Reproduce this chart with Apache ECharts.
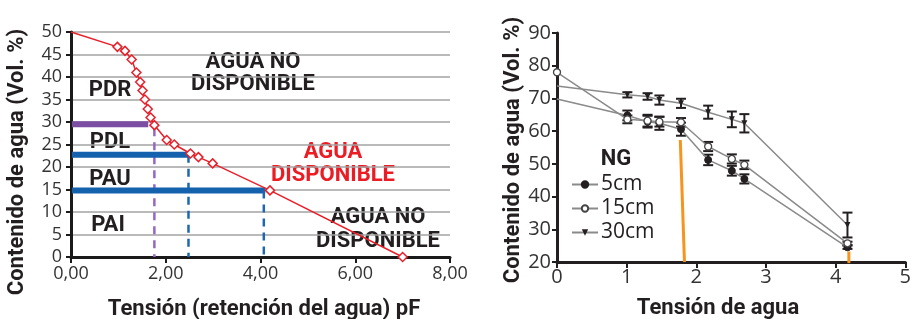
<!DOCTYPE html>
<html>
<head>
<meta charset="utf-8">
<script src="https://cdn.jsdelivr.net/npm/echarts@6/dist/echarts.min.js"></script>
<style>
  html, body { margin: 0; padding: 0; background: #fff; }
  #chart { width: 914px; height: 319px; }
</style>
</head>
<body>
<div id="chart"></div>
<script>
// left chart: retention curve (pF vs vol %)
const pfTension = [0, 0.98, 1.14, 1.28, 1.38, 1.46, 1.51, 1.56, 1.62, 1.68, 1.76, 2.02, 2.18, 2.52, 2.69, 2.99, 4.20, 7.00]
const pfWater = [50, 46.7, 45.8, 43.9, 41.0, 38.9, 37.0, 35.0, 32.9, 31.0, 29.3, 26.0, 25.0, 23.0, 22.2, 20.8, 14.8, 0]

// horizontal level bars and their dashed drops
const levelY = [29.5, 22.7, 14.8]
const levelEnd = [1.63, 2.5, 4.1]
const dropX = [1.76, 2.48, 4.07]
const dropTop = [28.6, 22.7, 14.8]
const levelColor = ['#7b4ea3', '#1461ad', '#1461ad']
const dropColor = ['#9566c6', '#1f66b2', '#1f66b2']

// right chart: tension vs water content per depth
const ngTension = [0, 1.01, 1.30, 1.47, 1.78, 2.17, 2.51, 2.69, 4.17]
const ng5 = [69.8, 64.8, 62.9, 62.4, 60.6, 51.2, 47.9, 45.4, 24.5]
const ng5Err = [0, 1.5, 1.8, 2.0, 2.0, 1.6, 1.5, 1.4, 0.5]
const ng15 = [78.0, 63.6, 63.2, 62.9, 62.7, 55.3, 51.5, 49.7, 25.7]
const ng15Err = [0, 1.2, 1.8, 1.5, 1.3, 1.4, 1.4, 1.3, 0.5]
const ng30 = [73.8, 71.1, 70.6, 69.5, 68.5, 65.8, 63.6, 62.4, 31.3]
const ng30Err = [0, 0.8, 1.0, 1.4, 1.4, 2.0, 2.4, 2.8, 3.8]

// orange marker lines
const orangeA = [[1.77, 57.3], [1.83, 20]]
const orangeB = [[4.19, 23.2], [4.19, 19.6]]

const dark = '#231f20'
const tickFont = 'Open Sans'
const boldFont = 'Roboto'

const chart = echarts.init(document.getElementById('chart'), null, { renderer: 'canvas' })

const curveData = pfTension.map((x, i) => {
  const item = { value: [x, pfWater[i]] }
  if (i === 0) item.symbol = 'none'
  return item
})

const levelSeries = []
levelY.forEach((y, i) => {
  levelSeries.push({
    type: 'line',
    xAxisIndex: 0,
    yAxisIndex: 0,
    data: [[0.02, y], [levelEnd[i], y]],
    symbol: 'none',
    silent: true,
    z: 3,
    lineStyle: { color: levelColor[i], width: 6 }
  })
  levelSeries.push({
    type: 'line',
    xAxisIndex: 0,
    yAxisIndex: 0,
    data: [[dropX[i], dropTop[i]], [dropX[i], 0]],
    symbol: 'none',
    silent: true,
    z: 3,
    lineStyle: { color: dropColor[i], width: 2.5, type: [8, 6] }
  })
})

const pointData = (ys, i0) => ngTension.map((x, i) => {
  const item = { value: [x, ys[i]] }
  if (i === 0 && !i0) item.symbol = 'none'
  return item
})

const errData = (ys, errs) => {
  const out = []
  ngTension.forEach((x, i) => {
    if (errs[i] > 0) out.push([x, ys[i] - errs[i], ys[i] + errs[i]])
  })
  return out
}

const renderError = (params, api) => {
  const x = api.value(0)
  const lo = api.coord([x, api.value(1)])
  const hi = api.coord([x, api.value(2)])
  const w = 5
  const style = { stroke: dark, lineWidth: 2, fill: null }
  return {
    type: 'group',
    children: [
      { type: 'line', shape: { x1: hi[0], y1: hi[1], x2: lo[0], y2: lo[1] }, style },
      { type: 'line', shape: { x1: hi[0] - w, y1: hi[1], x2: hi[0] + w, y2: hi[1] }, style },
      { type: 'line', shape: { x1: lo[0] - w, y1: lo[1], x2: lo[0] + w, y2: lo[1] }, style }
    ]
  }
}

const errSeries = [[ng5, ng5Err], [ng15, ng15Err], [ng30, ng30Err]].map(([ys, errs]) => ({
  type: 'custom',
  xAxisIndex: 1,
  yAxisIndex: 1,
  renderItem: renderError,
  encode: { x: 0, y: [1, 2] },
  data: errData(ys, errs),
  silent: true,
  z: 2
}))

const axisText = { color: '#333', fontSize: 18, fontFamily: tickFont }

const text = (str, x, y, opts = {}) => ({
  type: 'text',
  x,
  y,
  rotation: opts.rotation || 0,
  style: {
    text: str,
    fill: opts.color || dark,
    fontSize: opts.size || 22,
    fontWeight: opts.weight || 'bold',
    fontFamily: opts.family || boldFont,
    lineHeight: opts.lineHeight || 22,
    align: 'center',
    verticalAlign: 'middle'
  }
})

const option = {
  backgroundColor: '#fff',
  animation: false,
  grid: [
    { left: 71, right: 464, top: 32, bottom: 62 },
    { left: 557, right: 4, top: 33, bottom: 57 }
  ],
  xAxis: [
    {
      gridIndex: 0,
      type: 'value',
      min: 0,
      max: 8,
      interval: 2,
      axisLine: { lineStyle: { color: '#1a1a1a', width: 3 } },
      axisTick: { length: 6, lineStyle: { color: '#1a1a1a', width: 2 } },
      axisLabel: { ...axisText, margin: 8, formatter: (v) => v.toFixed(2).replace('.', ',') },
      splitLine: { show: false }
    },
    {
      gridIndex: 1,
      type: 'value',
      min: 0,
      max: 5,
      interval: 1,
      axisLine: { lineStyle: { color: dark, width: 3 } },
      axisTick: { length: 6, lineStyle: { color: dark, width: 2 } },
      axisLabel: { ...axisText, fontSize: 20, margin: 5 },
      splitLine: { show: false }
    }
  ],
  yAxis: [
    {
      gridIndex: 0,
      type: 'value',
      min: 0,
      max: 50,
      interval: 5,
      axisLine: { show: true, lineStyle: { color: '#1a1a1a', width: 3 } },
      axisTick: { show: true, length: 5, lineStyle: { color: '#1a1a1a', width: 2 } },
      axisLabel: { ...axisText, margin: 9 },
      splitLine: { lineStyle: { color: '#a3a3a3', width: 1.5 } }
    },
    {
      gridIndex: 1,
      type: 'value',
      min: 20,
      max: 90,
      interval: 10,
      axisLine: { show: true, lineStyle: { color: dark, width: 3 } },
      axisTick: { show: true, length: 5, lineStyle: { color: dark, width: 2 } },
      axisLabel: { ...axisText, fontSize: 20, margin: 6 },
      splitLine: { show: false }
    }
  ],
  legend: {
    data: ['5cm', '15cm', '30cm'],
    orient: 'vertical',
    left: 566,
    top: 169,
    itemWidth: 26,
    itemHeight: 8,
    itemGap: 3,
    textStyle: { color: dark, fontSize: 21, fontFamily: tickFont, padding: [0, 0, 0, -2] }
  },
  graphic: [
    text('Contenido de agua (Vol. %)', 17, 162, { rotation: Math.PI / 2 }),
    text('Tensión (retención del agua) pF', 264, 309),
    text('Contenido de agua (Vol. %)', 513, 150, { rotation: Math.PI / 2 }),
    text('Tensión de agua', 718, 308),
    text('PDR', 110, 90),
    text('PDL', 110, 142),
    text('PAU', 110, 179),
    text('PAI', 108, 225),
    text('AGUA NO\nDISPONIBLE', 253, 73, { lineHeight: 22 }),
    text('AGUA\nDISPONIBLE', 333, 164, { color: '#ec1c24', lineHeight: 23 }),
    text('AGUA NO\nDISPONIBLE', 378, 229, { lineHeight: 24 }),
    text('NG', 616, 159)
  ],
  series: [
    ...levelSeries,
    {
      name: 'curva',
      type: 'line',
      xAxisIndex: 0,
      yAxisIndex: 0,
      data: curveData,
      symbol: 'diamond',
      symbolSize: 9,
      z: 4,
      lineStyle: { color: '#e8202a', width: 1.5 },
      itemStyle: { color: '#fff', borderColor: '#e8202a', borderWidth: 1.5 }
    },
    {
      type: 'line',
      xAxisIndex: 1,
      yAxisIndex: 1,
      data: orangeA,
      symbol: 'none',
      silent: true,
      lineStyle: { color: '#f7941d', width: 3 }
    },
    {
      type: 'line',
      xAxisIndex: 1,
      yAxisIndex: 1,
      data: orangeB,
      symbol: 'none',
      silent: true,
      lineStyle: { color: '#f7941d', width: 3 }
    },
    ...errSeries,
    {
      name: '5cm',
      type: 'line',
      xAxisIndex: 1,
      yAxisIndex: 1,
      data: pointData(ng5, false),
      symbol: 'circle',
      symbolSize: 7,
      z: 4,
      lineStyle: { color: '#8a8a8a', width: 1.5 },
      itemStyle: { color: dark, borderColor: dark, borderWidth: 1 }
    },
    {
      name: '15cm',
      type: 'line',
      xAxisIndex: 1,
      yAxisIndex: 1,
      data: pointData(ng15, true),
      symbol: 'circle',
      symbolSize: 7,
      z: 5,
      lineStyle: { color: '#8a8a8a', width: 1.5 },
      itemStyle: { color: '#fff', borderColor: '#444', borderWidth: 1.3 }
    },
    {
      name: '30cm',
      type: 'line',
      xAxisIndex: 1,
      yAxisIndex: 1,
      data: pointData(ng30, false),
      symbol: 'triangle',
      symbolRotate: 180,
      symbolSize: 6,
      z: 4,
      lineStyle: { color: '#8a8a8a', width: 1.5 },
      itemStyle: { color: dark, borderColor: dark, borderWidth: 0 }
    }
  ]
}

chart.setOption(option)
</script>
</body>
</html>
